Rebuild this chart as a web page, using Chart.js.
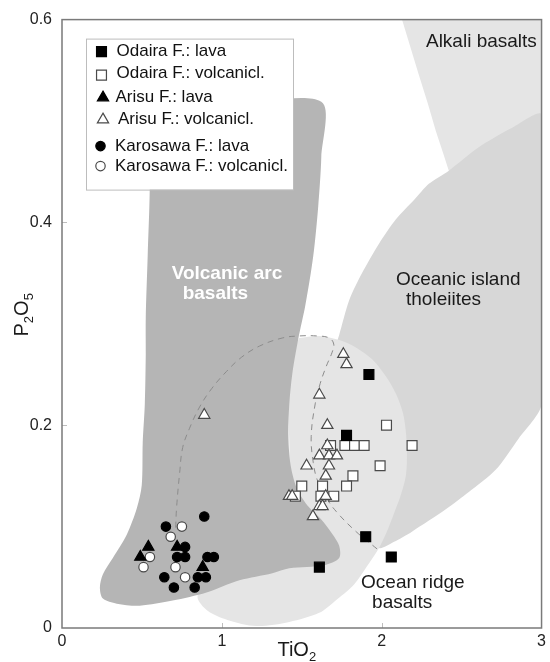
<!DOCTYPE html>
<html>
<head>
<meta charset="utf-8">
<script src="https://cdn.jsdelivr.net/npm/chart.js@4.4.1/dist/chart.umd.min.js"></script>
<style>
  html, body { margin: 0; padding: 0; background: #fff; }
  canvas { display: block; }
</style>
</head>
<body>
<canvas id="chart" width="550" height="662"></canvas>
<script>
// ---- Sample data: TiO2 (wt%) vs P2O5 (wt%) ----
const odairaLavaTiO2 = [1.92, 1.78, 1.90, 2.06, 1.61];
const odairaLavaP2O5 = [0.25, 0.19, 0.09, 0.07, 0.06];

const odairaVolcTiO2 = [2.03, 1.68, 1.77, 1.83, 1.89, 2.19, 1.99, 1.82, 1.50, 1.63, 1.78, 1.46, 1.62, 1.70];
const odairaVolcP2O5 = [0.20, 0.18, 0.18, 0.18, 0.18, 0.18, 0.16, 0.15, 0.14, 0.14, 0.14, 0.13, 0.13, 0.13];

const arisuLavaTiO2 = [0.54, 0.72, 0.49, 0.88];
const arisuLavaP2O5 = [0.08, 0.08, 0.07, 0.06];

const arisuVolcTiO2 = [0.89, 1.76, 1.78, 1.61, 1.66, 1.66, 1.61, 1.67, 1.72, 1.53, 1.67, 1.65, 1.42, 1.44, 1.65, 1.61, 1.63, 1.57];
const arisuVolcP2O5 = [0.21, 0.27, 0.26, 0.23, 0.20, 0.18, 0.17, 0.17, 0.17, 0.16, 0.16, 0.15, 0.13, 0.13, 0.13, 0.12, 0.12, 0.11];

const karosawaLavaTiO2 = [0.89, 0.65, 0.77, 0.72, 0.77, 0.91, 0.95, 0.64, 0.85, 0.90, 0.70, 0.83];
const karosawaLavaP2O5 = [0.11, 0.10, 0.08, 0.07, 0.07, 0.07, 0.07, 0.05, 0.05, 0.05, 0.04, 0.04];

const karosawaVolcTiO2 = [0.75, 0.68, 0.55, 0.51, 0.71, 0.77];
const karosawaVolcP2O5 = [0.10, 0.09, 0.07, 0.06, 0.06, 0.05];

// ---- Discrimination field boundaries [TiO2, P2O5] ----
const volcanicArcField = [
  [0.536, 0.513], [1.079, 0.516], [1.622, 0.519], [1.622, 0.464], [1.603, 0.416],
  [1.572, 0.367], [1.522, 0.318], [1.478, 0.285], [1.441, 0.251], [1.422, 0.221],
  [1.416, 0.192], [1.428, 0.163], [1.466, 0.139], [1.534, 0.121], [1.622, 0.107],
  [1.690, 0.093], [1.734, 0.081], [1.734, 0.069], [1.640, 0.062], [1.422, 0.059],
  [1.316, 0.054], [1.110, 0.047], [0.904, 0.035], [0.692, 0.027], [0.486, 0.022],
  [0.343, 0.024], [0.256, 0.029], [0.237, 0.040], [0.256, 0.053], [0.318, 0.069],
  [0.405, 0.092], [0.468, 0.118], [0.499, 0.141], [0.505, 0.183], [0.518, 0.221],
  [0.524, 0.270], [0.524, 0.306], [0.536, 0.367], [0.549, 0.435], [0.543, 0.474],
  [0.536, 0.513]
];
const oceanRidgeField = [
  [1.484, 0.286], [1.609, 0.288], [1.734, 0.284], [1.846, 0.276], [1.940, 0.265],
  [2.027, 0.248], [2.089, 0.231], [2.133, 0.212], [2.152, 0.192], [2.158, 0.173],
  [2.152, 0.151], [2.121, 0.132], [2.089, 0.118], [2.040, 0.098], [1.983, 0.079],
  [1.908, 0.061], [1.827, 0.043], [1.703, 0.026], [1.609, 0.015], [1.422, 0.006],
  [1.216, 0.002], [1.035, 0.008], [0.911, 0.017], [0.848, 0.030], [0.892, 0.047],
  [1.235, 0.095], [1.410, 0.153], [1.416, 0.221], [1.441, 0.270], [1.484, 0.286]
];
const oceanicIslandField = [
  [1.734, 0.289], [1.796, 0.323], [1.877, 0.350], [1.983, 0.379], [2.089, 0.403],
  [2.202, 0.422], [2.295, 0.438], [2.420, 0.451], [2.607, 0.474], [2.813, 0.493],
  [3.000, 0.506], [3.000, 0.221], [2.857, 0.187], [2.713, 0.156], [2.545, 0.134],
  [2.401, 0.117], [2.189, 0.095], [2.077, 0.085], [1.983, 0.079], [1.859, 0.105],
  [1.703, 0.153], [1.640, 0.202], [1.659, 0.250], [1.734, 0.289]
];
const alkaliField = [
  [2.127, 0.600], [2.183, 0.571], [2.233, 0.545], [2.289, 0.517], [2.339, 0.490],
  [2.383, 0.469], [2.432, 0.445], [3.000, 0.367], [3.000, 0.600], [2.127, 0.600]
];
const dashedBoundary = [
  [0.711, 0.099], [0.717, 0.119], [0.736, 0.153], [0.755, 0.178], [0.798, 0.197],
  [0.861, 0.218], [0.936, 0.236], [1.029, 0.253], [1.123, 0.267], [1.235, 0.278],
  [1.378, 0.286], [1.484, 0.288], [1.597, 0.288], [1.672, 0.286], [1.700, 0.280],
  [1.690, 0.272], [1.653, 0.258], [1.615, 0.241], [1.584, 0.221], [1.559, 0.189],
  [1.572, 0.163], [1.597, 0.146], [1.647, 0.130], [1.715, 0.115], [1.840, 0.095],
  [1.971, 0.078]
];

// ---- Axis tick labels ----
const xTickLabels = ['0', '1', '2', '3'];
const yTickLabels = ['0', '0.2', '0.4', '0.6'];

// ---- Series names ----
const seriesNames = [
  'Odaira F.: lava', 'Odaira F.: volcanicl.',
  'Arisu F.: lava', 'Arisu F.: volcanicl.',
  'Karosawa F.: lava', 'Karosawa F.: volcanicl.'
];

const FONT = "'Liberation Sans', Arial, Helvetica, sans-serif";
Chart.defaults.font.family = FONT;

const pts = (xs, ys) => xs.map((x, i) => ({ x: x, y: ys[i] }));
const poly = arr => arr.map(p => ({ x: p[0], y: p[1] }));

function field(data, color, order, tension) {
  return {
    type: 'line', data: poly(data), fill: 'shape', backgroundColor: color,
    borderColor: 'rgba(0,0,0,0)', borderWidth: 0, pointRadius: 0, pointHoverRadius: 0,
    tension: tension, order: order
  };
}

function series(label, data, style, radius, fillColor, strokeColor, order) {
  return {
    type: 'scatter', label: label, data: data, pointStyle: style,
    pointRadius: radius, pointHoverRadius: radius,
    pointBackgroundColor: fillColor, pointBorderColor: strokeColor,
    pointBorderWidth: 1.2, pointHoverBorderWidth: 1.2, order: order
  };
}

const pointSeries = [
  series(seriesNames[0], pts(odairaLavaTiO2, odairaLavaP2O5), 'rect', 7, '#000', '#000', 1),
  series(seriesNames[1], pts(odairaVolcTiO2, odairaVolcP2O5), 'rect', 7, '#fff', '#4a4a4a', 1),
  series(seriesNames[2], pts(arisuLavaTiO2, arisuLavaP2O5), 'triangle', 6.5, '#000', '#000', 0),
  series(seriesNames[3], pts(arisuVolcTiO2, arisuVolcP2O5), 'triangle', 6.5, '#fff', '#4a4a4a', 0),
  series(seriesNames[4], pts(karosawaLavaTiO2, karosawaLavaP2O5), 'circle', 4.7, '#000', '#000', 0),
  series(seriesNames[5], pts(karosawaVolcTiO2, karosawaVolcP2O5), 'circle', 4.7, '#fff', '#4a4a4a', 0)
];

const fieldLabels = [
  { lines: ['Volcanic arc', 'basalts'], at: [[0.686, 0.3495], [0.755, 0.330]], bold: true, color: '#ffffff', size: 19 },
  { lines: ['Oceanic island', 'tholeiites'], at: [[2.089, 0.3437], [2.152, 0.3233]], bold: false, color: '#1a1a1a', size: 19 },
  { lines: ['Alkali basalts'], at: [[2.277, 0.5777]], bold: false, color: '#1a1a1a', size: 19 },
  { lines: ['Ocean ridge', 'basalts'], at: [[1.871, 0.0447], [1.940, 0.0252]], bold: false, color: '#1a1a1a', size: 19 }
];

// Text with subscript digits, centred on cx
function drawSubscripted(ctx, parts, cx, baseline, mainSize, subSize) {
  let total = 0;
  const widths = parts.map(([t, sub]) => {
    ctx.font = (sub ? subSize : mainSize) + 'px ' + FONT;
    const w = ctx.measureText(t).width;
    total += w;
    return w;
  });
  let x = cx - total / 2;
  parts.forEach(([t, sub], i) => {
    ctx.font = (sub ? subSize : mainSize) + 'px ' + FONT;
    ctx.fillText(t, x, sub ? baseline + 5 : baseline);
    x += widths[i];
  });
}

const decorPlugin = {
  id: 'decor',
  afterDatasetsDraw(chart) {
    const ctx = chart.ctx;
    const a = chart.chartArea;
    const xs = chart.scales.x, ys = chart.scales.y;
    ctx.save();
    // field names
    ctx.textBaseline = 'middle';
    ctx.textAlign = 'left';
    fieldLabels.forEach(f => {
      ctx.fillStyle = f.color;
      ctx.font = (f.bold ? 'bold ' : '') + f.size + 'px ' + FONT;
      f.lines.forEach((t, i) => {
        ctx.fillText(t, xs.getPixelForValue(f.at[i][0]), ys.getPixelForValue(f.at[i][1]));
      });
    });
    // inner tick marks
    ctx.strokeStyle = '#bdbdbd';
    ctx.lineWidth = 1;
    [1, 2].forEach(v => {
      const px = Math.round(xs.getPixelForValue(v)) + 0.5;
      ctx.beginPath(); ctx.moveTo(px, a.bottom); ctx.lineTo(px, a.bottom - 5); ctx.stroke();
    });
    [0.2, 0.4].forEach(v => {
      const py = Math.round(ys.getPixelForValue(v)) + 0.5;
      ctx.beginPath(); ctx.moveTo(a.left, py); ctx.lineTo(a.left + 5, py); ctx.stroke();
    });
    // plot frame
    ctx.strokeStyle = '#7a7a7a';
    ctx.lineWidth = 1.5;
    ctx.strokeRect(a.left, a.top, a.right - a.left, a.bottom - a.top);
    ctx.restore();
  },
  afterDraw(chart) {
    const ctx = chart.ctx;
    const a = chart.chartArea;
    ctx.save();
    // axis titles
    ctx.fillStyle = '#1a1a1a';
    ctx.textBaseline = 'alphabetic';
    ctx.textAlign = 'left';
    drawSubscripted(ctx, [['TiO', false], ['2', true]], (a.left + a.right) / 2 - 5, 656, 20, 13);
    ctx.save();
    ctx.translate(28, (a.top + a.bottom) / 2 - 9);
    ctx.rotate(-Math.PI / 2);
    drawSubscripted(ctx, [['P', false], ['2', true], ['O', false], ['5', true]], 0, 0, 20, 13);
    ctx.restore();

    // legend
    const lx = a.left + 24, ly = a.top + 19, lw = 207, lh = 151;
    ctx.fillStyle = '#ffffff';
    ctx.fillRect(lx, ly, lw, lh);
    ctx.strokeStyle = '#bdbdbd';
    ctx.lineWidth = 1;
    ctx.strokeRect(lx + 0.5, ly + 0.5, lw, lh);
    const rowY = [13, 34.5, 59, 81, 107.5, 127.5];
    const markX = [15.5, 15.5, 17, 17, 14.5, 14.5];
    const textX = [30.5, 30.5, 29.5, 32, 29, 29];
    ctx.textBaseline = 'middle';
    pointSeries.forEach((ds, i) => {
      const mx = lx + markX[i], my = ly + rowY[i] + (i === 1 ? 2 : 0);
      ctx.fillStyle = ds.pointBackgroundColor;
      ctx.strokeStyle = ds.pointBorderColor;
      ctx.lineWidth = 1.2;
      Chart.helpers.drawPoint(ctx, {
        pointStyle: ds.pointStyle, radius: ds.pointRadius, borderWidth: 1.2, rotation: 0
      }, mx, my);
      ctx.fillStyle = '#111111';
      ctx.font = '17px ' + FONT;
      ctx.fillText(ds.label, lx + textX[i], ly + rowY[i]);
    });
    ctx.restore();
  }
};

new Chart(document.getElementById('chart'), {
  type: 'scatter',
  data: {
    datasets: [
      ...pointSeries,
      {
        type: 'line', data: poly(dashedBoundary), borderColor: '#8c8c8c', borderWidth: 1,
        borderDash: [6, 5], fill: false, pointRadius: 0, pointHoverRadius: 0, tension: 0.4, order: 2
      },
      field(volcanicArcField, '#b5b5b5', 3, 0.3),
      field(oceanRidgeField, '#e5e5e5', 4, 0.3),
      field(oceanicIslandField, '#d7d7d7', 5, 0.25),
      field(alkaliField, '#e5e5e5', 6, 0)
    ]
  },
  options: {
    responsive: false,
    devicePixelRatio: 1,
    animation: false,
    events: [],
    layout: { padding: { top: 10, right: 7, left: 0, bottom: 0 } },
    plugins: { legend: { display: false }, tooltip: { enabled: false } },
    scales: {
      x: {
        type: 'linear', min: 0, max: 3,
        afterFit: s => { s.height = 34; },
        grid: { display: false, drawTicks: false }, border: { display: false },
        ticks: {
          stepSize: 1, padding: 4, color: '#222', maxRotation: 0, autoSkip: false,
          font: { size: 16 },
          callback: (v, i) => xTickLabels[i]
        }
      },
      y: {
        type: 'linear', min: 0, max: 0.6,
        afterFit: s => { s.width = 62; },
        grid: { display: false, drawTicks: false }, border: { display: false },
        ticks: {
          stepSize: 0.2, padding: 10, color: '#222', autoSkip: false,
          font: { size: 16 },
          callback: (v, i) => yTickLabels[i]
        }
      }
    }
  },
  plugins: [decorPlugin]
});
</script>
</body>
</html>
